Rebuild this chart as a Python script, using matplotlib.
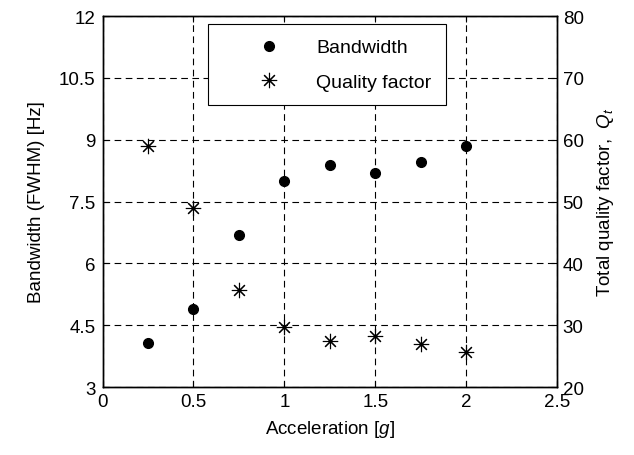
import matplotlib
matplotlib.use('Agg')
import matplotlib.pyplot as plt

plt.rcParams['font.family'] = ['Liberation Sans', 'DejaVu Sans']
plt.rcParams['mathtext.fontset'] = 'custom'
plt.rcParams['mathtext.it'] = 'Liberation Sans:italic'
plt.rcParams['mathtext.rm'] = 'Liberation Sans'

# Datos
accel = [0.25, 0.5, 0.75, 1.0, 1.25, 1.5, 1.75, 2.0]
bandwidth = [4.06, 4.89, 6.68, 7.99, 8.38, 8.18, 8.47, 8.85]
quality = [58.9, 48.9, 35.7, 29.7, 27.5, 28.2, 26.9, 25.6]

xticks = [0, 0.5, 1, 1.5, 2, 2.5]
xticklabels = ['0', '0.5', '1', '1.5', '2', '2.5']
yticks_left = [3, 4.5, 6, 7.5, 9, 10.5, 12]
yticklabels_left = ['3', '4.5', '6', '7.5', '9', '10.5', '12']
yticks_right = [20, 30, 40, 50, 60, 70, 80]

fig = plt.figure(figsize=(6.34, 4.56), dpi=100)
ax = fig.add_axes([0.1617, 0.149, 0.717, 0.8137])
ax2 = ax.twinx()

h1, = ax.plot(accel, bandwidth, 'o', color='black', markersize=7, label='Bandwidth')
h2, = ax2.plot(accel, quality, marker=(8, 2, 0), linestyle='none', color='black',
               markersize=11, markeredgewidth=0.8, label='Quality factor')

ax.set_xlim(0, 2.5)
ax.set_ylim(3, 12)
ax2.set_ylim(20, 80)
ax.set_xticks(xticks)
ax.set_xticklabels(xticklabels)
ax.set_yticks(yticks_left)
ax.set_yticklabels(yticklabels_left)
ax2.set_yticks(yticks_right)

ax.grid(True, linestyle=(0, (6, 4)), color='black', linewidth=0.8)
ax.tick_params(axis='y', direction='in', labelsize=13.5, length=4, pad=5)
ax.tick_params(axis='x', direction='in', labelsize=13.5, top=True, length=4, pad=4)
ax2.tick_params(direction='in', labelsize=13.5, length=4, pad=4)
for a in (ax, ax2):
    for s in a.spines.values():
        s.set_linewidth(1.0)

ax.set_xlabel('Acceleration [$g$]', fontsize=13.5, labelpad=6)
ax.set_ylabel('Bandwidth (FWHM) [Hz]', fontsize=13.5, labelpad=10)
ax2.set_ylabel('Total quality factor,  $Q_t$', fontsize=13.5, labelpad=8)

leg = ax.legend(handles=[h1, h2], loc='upper left', bbox_to_anchor=(0.233, 0.978),
                fontsize=14, frameon=True, fancybox=False, edgecolor='black',
                handlelength=4.7, handletextpad=0.1, borderpad=0.75, labelspacing=0.85,
                borderaxespad=0)
leg.get_frame().set_linewidth(0.8)
leg.get_frame().set_alpha(1)

fig.savefig('out.png', dpi=100)
